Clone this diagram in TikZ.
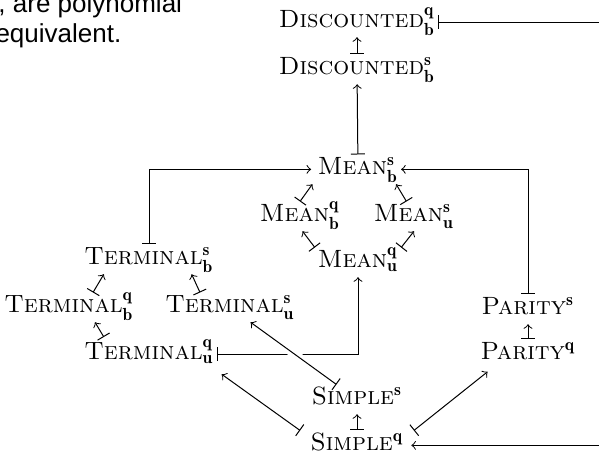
\documentclass[tikz,border=0pt]{standalone}
\usepackage{fontspec}
\newfontfamily\notefont{Liberation Sans}
\usetikzlibrary{positioning}
\newcommand{\prob}[3]{\textsc{#1}$^{\mathbf{#2}}_{\mathbf{#3}}$}
\newcommand{\probs}[2]{\textsc{#1}$^{\mathbf{#2}}$}

\begin{document}
\begin{tikzpicture}[x=0.4pt, y=-0.4pt, every node/.style={anchor=base, inner sep=1pt, text height=7pt, text depth=2.5pt}, reduct/.style={|->}, note/.style={anchor=base west, inner sep=0pt, font=\notefont\fontsize{10.4}{13}\selectfont}]
      \useasboundingbox (0,0) rectangle (599,457); \clip (0,0) rectangle (599,457);
      \node[note] (note1) at (-2,13) {, are polynomial}; \node[note] (note2)
      at (-5,43) {equivalent.};

      \node (dq) at (357,28) {\prob{Discounted}{q}{b}}; \node (ds) at
      (357,75) {\prob{Discounted}{s}{b}}; \node (mbs) at (358,175)
      {\prob{Mean}{s}{b}}; \node (mbq) at (300,222) {\prob{Mean}{q}{b}};
      \node (msu) at (414,222) {\prob{Mean}{s}{u}}; \node (muq) at (358,268)
      {\prob{Mean}{q}{u}}; \node (tbs) at (149,265) {\prob{Terminal}{s}{b}};
      \node (tbq) at (69,313) {\prob{Terminal}{q}{b}}; \node (tus) at
      (230,313) {\prob{Terminal}{s}{u}}; \node (tuq) at (149,360)
      {\prob{Terminal}{q}{u}}; \node (ss) at (357,405) {\probs{Simple}{s}};
      \node (sq) at (357,451) {\probs{Simple}{q}}; \node (ps) at (528,315)
      {\probs{Parity}{s}}; \node (pq) at (528,360) {\probs{Parity}{q}};
      \coordinate (loopr) at (640,240);

      \draw[reduct] (ds) -- (dq); \draw[reduct] (mbs) -- (ds); \draw[reduct]
      (dq.east) -| (loopr) |- ([xshift=2pt]sq.east); \draw[reduct] (tbs.north) |-
      ([xshift=-1.5pt]mbs.west); \draw[reduct] (ps.north) |- (mbs.east); \draw[reduct]
      (mbq.north) -- ([xshift=-1pt]mbs.south west); \draw[reduct]
      ([xshift=-3pt]msu.north) -- ([xshift=-2pt]mbs.south east);
      \draw[reduct] (muq.north west) -- ([xshift=1pt]mbq.south);
      \draw[reduct] (muq.north east) -- (msu.south); \draw[reduct]
      ([xshift=9.6pt]tbq.north) -- ([xshift=9pt]tbs.south west);
      \draw[reduct] ([xshift=-12pt]tus.north) -- ([xshift=-10pt]tbs.south
      east); \draw[reduct] ([xshift=9pt, yshift=1pt]tuq.north west) --
      ([xshift=10.4pt]tbq.south); \draw[reduct] (tuq.east) -| (muq.south);
      \draw[reduct, preaction={draw=white, line width=3.5pt, -}] (ss) --
      (tus); \draw[reduct] ([xshift=-3pt]sq.north west) --
      ([xshift=2pt, yshift=-2pt]tuq.south east); \draw[reduct] (sq) -- (ss);
      \draw[reduct] ([xshift=3pt]sq.north east) -- ([xshift=4pt,
      yshift=-1pt]pq.south west); \draw[reduct] (pq) -- (ps);
    \end{tikzpicture}
\end{document}
